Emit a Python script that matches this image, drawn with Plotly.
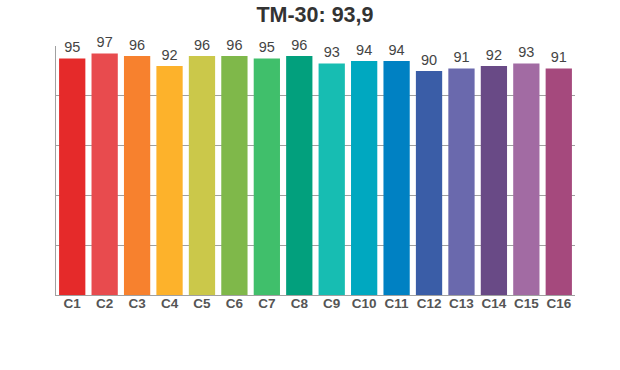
import plotly.graph_objects as go

categories = ["C1", "C2", "C3", "C4", "C5", "C6", "C7", "C8",
              "C9", "C10", "C11", "C12", "C13", "C14", "C15", "C16"]
values = [95, 97, 96, 92, 96, 96, 95, 96, 93, 94, 94, 90, 91, 92, 93, 91]
colors = ["#E52A2A", "#E84B4E", "#F7812E", "#FDB22B", "#CBC84A", "#7FB84A",
          "#40BF6B", "#02A07D", "#17BDB2", "#00A8C0", "#0081C3", "#3A5DA7",
          "#6A69AD", "#694A86", "#A26BA3", "#A5497D"]
title_text = "TM-30: 93,9"

fig = go.Figure(go.Bar(
    x=categories, y=values,
    marker=dict(color=colors, line=dict(width=0)),
    text=[str(v) for v in values],
    textposition="outside",
    textfont=dict(family="Liberation Sans, Arial", size=14.5, color="#444444"),
    cliponaxis=False,
    hoverinfo="skip",
))

fig.update_layout(
    width=620, height=370,
    margin=dict(l=56, r=45, t=46, b=75),
    paper_bgcolor="white", plot_bgcolor="white",
    bargap=0.19,
    showlegend=False,
    title=dict(text="<b>" + title_text + "</b>", x=0.508, xanchor="center",
               y=0.962, yanchor="middle",
               font=dict(family="Liberation Sans, Arial", size=21.5, color="#333333")),
    font=dict(family="Liberation Sans, Arial"),
)
fig.update_yaxes(range=[0, 100], dtick=20, showticklabels=False,
                 showgrid=True, gridcolor="#A0A0A0", gridwidth=1,
                 showline=True, linecolor="#A0A0A0", linewidth=1,
                 zeroline=False, fixedrange=True)
fig.update_xaxes(showline=True, linecolor="#A0A0A0", linewidth=1,
                 tickfont=dict(family="Liberation Sans, Arial", size=13.5, color="#555555"),
                 tickprefix="<b>", ticksuffix="</b>", ticklen=0,
                 ticklabelstandoff=-4,
                 fixedrange=True)

fig.write_html("out.html", config={"displayModeBar": False},
               post_script="document.body.style.margin='0';")
